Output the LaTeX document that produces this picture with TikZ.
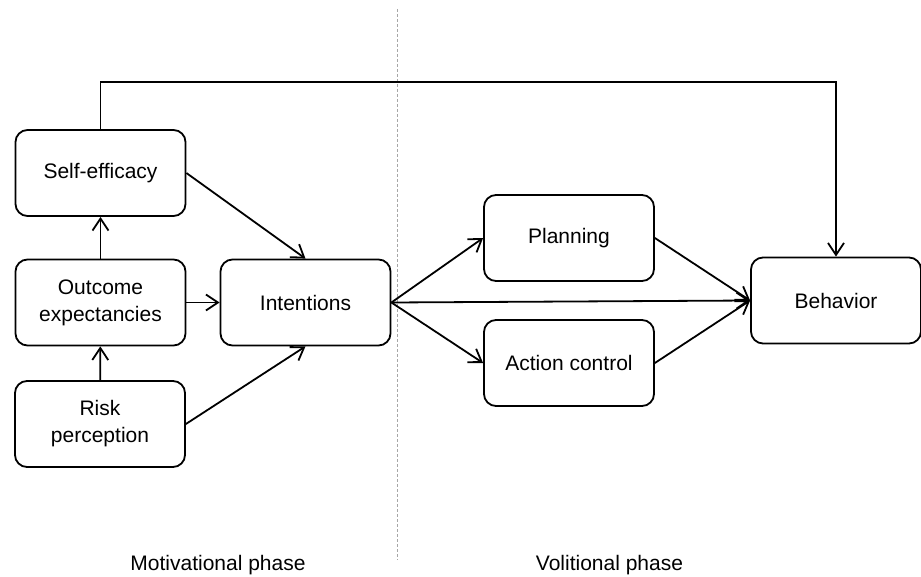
\documentclass[tikz,border=0pt]{standalone}
\usepackage{fontspec}
\setmainfont{Liberation Sans}
\usetikzlibrary{arrows,arrows.meta,positioning}

\begin{document}
\begin{tikzpicture}[x=0.5pt, y=-0.5pt,
  box/.style={draw, rounded corners=6pt, line width=0.9pt, minimum width=85pt,
    minimum height=43pt, inner sep=0pt, align=center,
    font=\fontsize{10.5}{13.5}\selectfont},
  link/.style={line width=0.9pt, -{Straight Barb[length=6pt,width=8pt,line width=0.9pt]}}]
\useasboundingbox (0,0) rectangle (921,577);
\node (selfeff) at (100.5,173) [box] {Self-efficacy};
\node (outcome) at (100.5,302.5) [box] {Outcome\\expectancies};
\node (risk) at (100,424) [box] {Risk\\perception};
\node (intent) at (305.5,302.5) [box] {Intentions};
\node (plan) at (569,238) [box] {Planning};
\node (action) at (569,363) [box] {Action control};
\node (behav) at (836,300.5) [box] {Behavior};
\node (motiv) at (218,570) [anchor=base, font=\fontsize{10.5}{13}\selectfont] {Motivational phase};
\node (volit) at (609.5,570) [anchor=base, font=\fontsize{10.5}{13}\selectfont] {Volitional phase};
% phase divider
\coordinate (divtop) at (397,9);
\coordinate (divbot) at (397,560);
\draw[gray!70, line width=0.5pt, dash pattern=on 1.5pt off 1pt] (divtop) -- (divbot);
\coordinate (top) at (0,82);
\draw[link] (selfeff.north) -- (selfeff.north |- top) -| (behav.north);
\draw[link] (outcome) -- (selfeff);
\draw[link] (risk) -- (outcome);
\draw[link] (selfeff.east) -- (intent.north);
\draw[link] (outcome) -- (intent);
\draw[link] (risk.east) -- (intent.south);
\draw[link] (intent.east) -- (plan.west);
\draw[link] (intent.east) -- (behav.west);
\draw[link] (intent.east) -- (action.west);
\draw[link] (plan.east) -- (behav.west);
\draw[link] (action.east) -- (behav.west);
\end{tikzpicture}
\end{document}
